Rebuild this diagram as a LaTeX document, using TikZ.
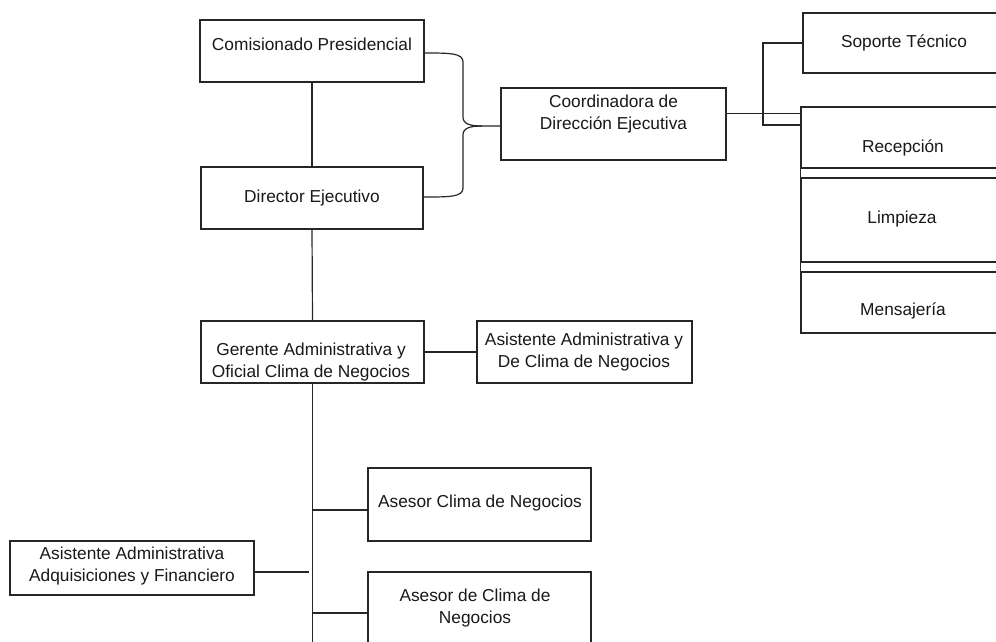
\documentclass[tikz,border=0pt]{standalone}
\usepackage{fontspec}
\setmainfont{Liberation Sans}
\begin{document}
\begin{tikzpicture}[x=1pt,y=-1pt,
  box/.style={draw=black!85, line width=1.2pt, rectangle, inner sep=0pt, fill=white},
  lbl/.style={font=\fontsize{17.3}{22}\selectfont, align=center, text=black!90},
  conn/.style={draw=black!85, line width=1.2pt}]
\useasboundingbox (0,0) rectangle (996,641);
\clip (0,0) rectangle (996,641);
% boxes
\node[box, minimum width=224pt, minimum height=62pt] (cp) at (312,51) {};
\node[lbl] (cpt) at (312,44) {Comisionado Presidencial};
\node[box, minimum width=222pt, minimum height=62pt] (de) at (312,198) {};
\node[lbl] (det) at (312,198) {Director Ejecutivo};
\node[box, minimum width=225pt, minimum height=72pt] (cd) at (613.5,124) {};
\node[lbl] (cdt) at (613.5,114) {Coordinadora de\\Dirección Ejecutiva};
\node[box, minimum width=210pt, minimum height=60pt] (st) at (908,43) {};
\node[lbl] (stt) at (904,43) {Soporte Técnico};
\node[box, minimum width=212pt, minimum height=61pt] (rc) at (907,137.5) {};
\node[lbl] (rct) at (903,148) {Recepción};
\node[box, minimum width=212pt, minimum height=84pt] (lp) at (907,220) {};
\node[lbl] (lpt) at (902,219) {Limpieza};
\node[box, minimum width=212pt, minimum height=61pt] (ms) at (907,302.5) {};
\node[lbl] (mst) at (903,311) {Mensajería};
\draw[conn] (rc.north west) -- (ms.south west);
\node[box, minimum width=223pt, minimum height=62pt] (ga) at (312.5,352) {};
\node[lbl] (gat) at (311,362) {Gerente Administrativa y\\Oficial Clima de Negocios};
\node[box, minimum width=215pt, minimum height=62pt] (aa) at (584.5,352) {};
\node[lbl] (aat) at (584,352) {Asistente Administrativa y\\De Clima de Negocios};
\node[box, minimum width=223pt, minimum height=73pt] (ac) at (479.5,504.5) {};
\node[lbl] (act) at (480,503) {Asesor Clima de Negocios};
\node[box, minimum width=244pt, minimum height=54pt] (ad) at (132,568) {};
\node[lbl] (adt) at (132,566) {Asistente Administrativa\\Adquisiciones y Financiero};
\node[box, minimum width=223pt, minimum height=88pt] (as) at (479.5,616) {};
\node[lbl] (ast) at (475,608) {Asesor de Clima de\\Negocios};
% spine
\coordinate (spine) at (313,650);
\draw[conn] (cp.south) -- (de.north);
\draw[conn] (de.south) -- (ga.north);
\draw[conn] (ga.south) -- (ga.south |- spine);
\draw[conn] (ga.east) -- (aa.west);
\draw[conn] ([yshift=-5.5pt]ac.west) -- ([yshift=-5.5pt]ac.west -| spine);
\draw[conn] ([yshift=-4pt]ad.east) -- ([yshift=-4pt,xshift=-4pt]ad.east -| spine);
\draw[conn] ([yshift=3pt]as.west) -- ([yshift=3pt]as.west -| spine);
% brace
\coordinate (bj) at (482,126);
\draw[conn] ([yshift=-2pt]cp.east) .. controls (450,53) and (463,53) .. (463,62) -- (463,117) .. controls (463,124) and (470,126) .. (bj) -- (bj -| cd.west);
\draw[conn] ([yshift=1pt]de.east) .. controls (450,197) and (463,197) .. (463,188) -- (463,135) .. controls (463,128) and (470,126) .. (bj);
% right connectors
\draw[conn] ([yshift=10.5pt]cd.east) -- ([yshift=10.5pt]cd.east -| rc.west);
\coordinate (bk) at (763,125);
\draw[conn] (st.west) -| (bk) -- (bk -| rc.west);
\end{tikzpicture}
\end{document}
